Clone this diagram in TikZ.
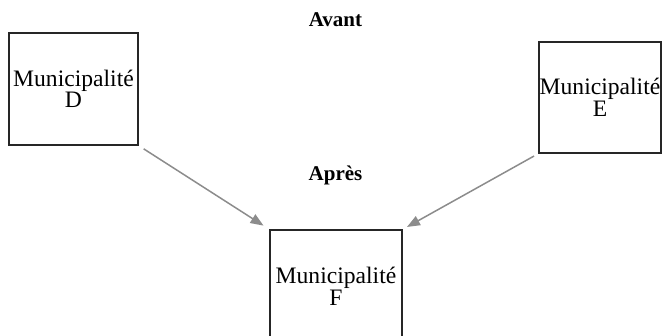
\documentclass[tikz,border=0pt]{standalone}
\usepackage{fontspec}
\setmainfont{Liberation Serif}
\usetikzlibrary{positioning,arrows.meta}

\begin{document}
\begin{tikzpicture}[
  x=0.5pt, y=0.5pt,
  muni/.style={rectangle, draw=black!85, line width=0.6pt, align=center,
    inner sep=0pt, minimum height=56pt, font=\fontsize{11.8}{10.8}\selectfont},
  titre/.style={font=\fontsize{10.5}{12}\selectfont\bfseries, inner sep=0pt},
  fleche/.style={draw=black!45, line width=0.75pt,
    -{Triangle[length=6.5pt,width=5pt]}}
]
  \useasboundingbox (0,0) rectangle (662,336);

  \node[muni, minimum width=64.5pt] (munD) at (73.5,247) {Municipalité\\D};
  \node[muni, minimum width=61pt, minimum height=55.5pt] (munE) at (600,238.5) {Municipalité\\E};
  \node[muni, minimum width=66pt] (munF) at (336,50) {Municipalité\\F};

  \node[titre] (avant) at (335.5,316) {Avant};
  \node[titre] (apres) at (335.5,161) {Après};

  \draw[fleche, shorten <=3pt, shorten >=3.5pt] (munD.south east) -- (munF.north west);
  \draw[fleche, shorten <=2.5pt, shorten >=2.5pt] (munE.south west) -- (munF.north east);
\end{tikzpicture}
\end{document}
